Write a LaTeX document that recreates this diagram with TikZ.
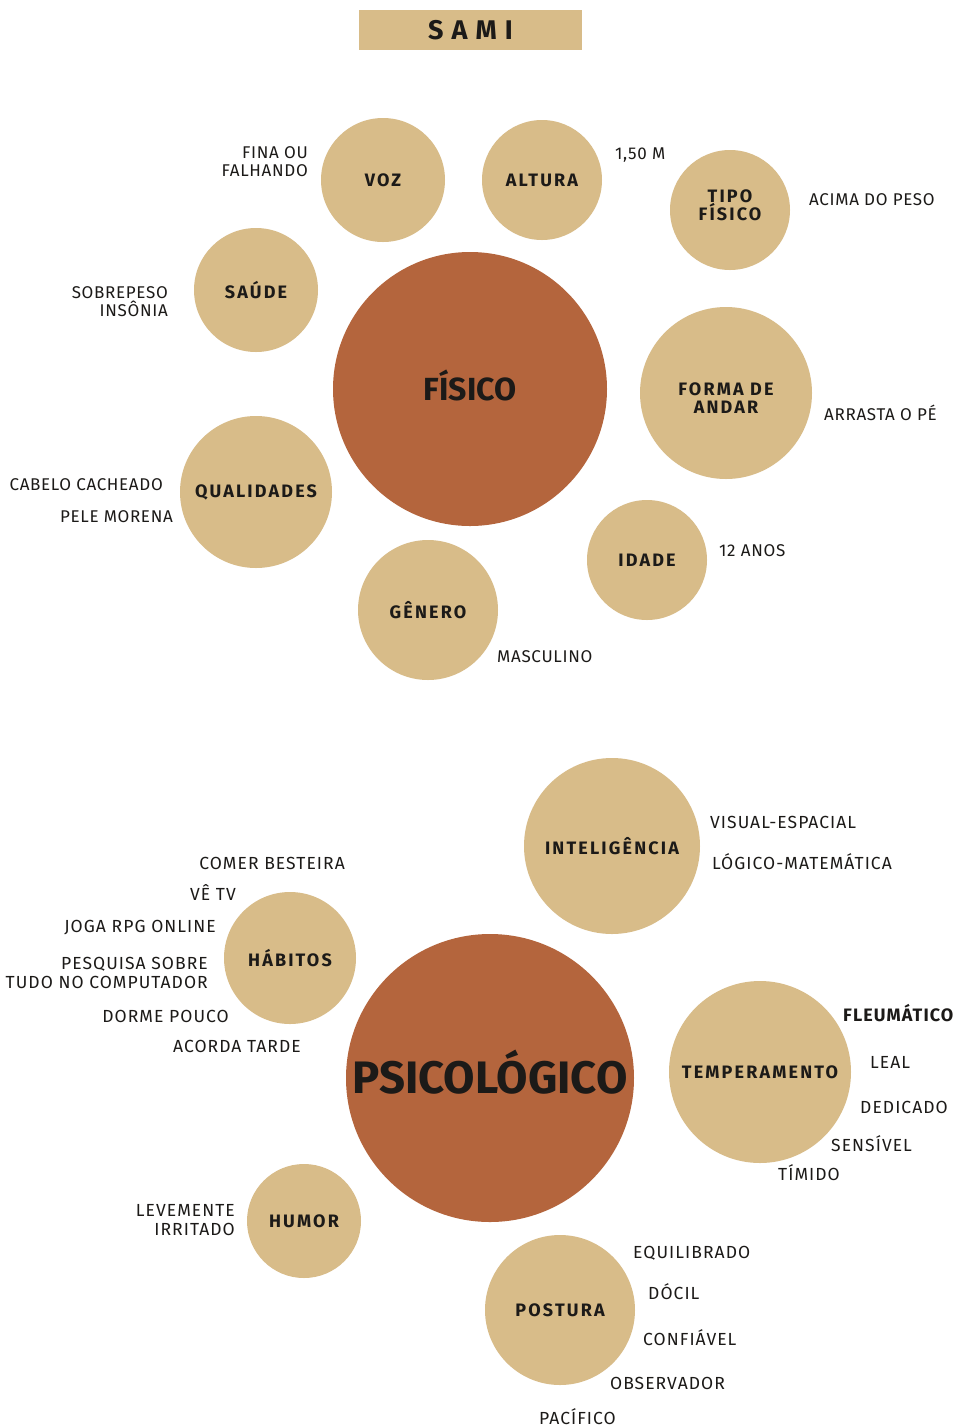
\documentclass[tikz,border=0pt]{standalone}
\usepackage{fontspec}
\setmainfont{Fira Sans}
\newfontfamily\labfont[LetterSpace=12]{Fira Sans}
\newfontfamily\notefont[LetterSpace=4]{Fira Sans}
\newfontfamily\notefontb[LetterSpace=6]{Fira Sans}
\newfontfamily\titlefont[LetterSpace=30]{Fira Sans}
\definecolor{tan}{HTML}{D8BC89}
\definecolor{rust}{HTML}{B4653D}
\definecolor{ink}{HTML}{1C1A18}
\begin{document}
\begin{tikzpicture}[x=1pt,y=-1pt,
  bub/.style={circle,fill=tan,inner sep=0pt,minimum size=#1,text=ink,
    font=\labfont\bfseries\fontsize{18}{18}\selectfont,align=center},
  blab/.style={text=ink,inner sep=0pt,align=center,
    font=\labfont\bfseries\fontsize{18}{18}\selectfont},
  core/.style={circle,fill=rust,inner sep=0pt,minimum size=#1,text=ink,text depth=0pt},
  note/.style={text=ink,inner sep=0pt,font=\notefont\fontsize{17}{18}\selectfont},
  noteb/.style={text=ink,inner sep=0pt,font=\notefontb\fontsize{17.5}{18.5}\selectfont},
  lnote/.style={note,anchor=base west},
  rnote/.style={note,anchor=base east},
  mnote/.style={note,anchor=east,align=right},
  lnoteb/.style={noteb,anchor=base west},
  rnoteb/.style={noteb,anchor=base east},
  mnoteb/.style={noteb,anchor=east,align=right}]
\useasboundingbox[fill=white] (0,0) rectangle (956,1428);

% title bar
\node[fill=tan,minimum width=223,minimum height=40,inner sep=0pt,text=ink,
  font=\titlefont\bfseries\fontsize{27}{28}\selectfont] (title) at (470.5,30) {SAMI};

% ---- physical traits ----
\node[core=274,text height=22pt,font=\bfseries\fontsize{32}{34}\selectfont] (fisico) at (470,389) {FÍSICO};
\node[bub=124] (voz) at (383,180) {VOZ};
\node[bub=120] (altura) at (542,180) {ALTURA};
\node[bub=120,label={[blab,yshift=5]center:TIPO\\FÍSICO}] (tipo) at (730,210) {};
\node[bub=124] (saude) at (256,290) {SAÚDE};
\node[bub=172,label={[blab,yshift=-5]center:FORMA DE\\ANDAR}] (andar) at (726,393) {};
\node[bub=152] (qual) at (256,492) {QUALIDADES};
\node[bub=120] (idade) at (647,560) {IDADE};
\node[bub=140] (genero) at (428,610) {GÊNERO};

\node[mnote] (vozn) at (308,162) {FINA OU\\FALHANDO};
\node[lnote] (alturan) at (615,159) {1,50 M};
\node[lnote] (tipon) at (809,205) {ACIMA DO PESO};
\node[mnote] (saude n) at (168,302) {SOBREPESO\\INSÔNIA};
\node[lnote] (andarn) at (824,420) {ARRASTA O PÉ};
\node[rnote] (qualn1) at (163,490) {CABELO CACHEADO};
\node[rnote] (qualn2) at (173,522) {PELE MORENA};
\node[lnote] (idaden) at (719,556) {12 ANOS};
\node[lnote] (generon) at (497,662) {MASCULINO};

% ---- psychological traits ----
\node[core=288,text height=31.3pt,font=\bfseries\fontsize{45.5}{47}\selectfont] (psico) at (490,1078) {PSICOLÓGICO};
\node[bub=176] (intel) at (612,846) {INTELIGÊNCIA};
\node[bub=132] (habitos) at (290,958) {HÁBITOS};
\node[bub=182] (temp) at (760,1072) {TEMPERAMENTO};
\node[bub=114] (humor) at (304,1221) {HUMOR};
\node[bub=150] (postura) at (560,1310) {POSTURA};

\node[lnoteb] (inteln1) at (710,828) {VISUAL-ESPACIAL};
\node[lnoteb] (inteln2) at (712,869) {LÓGICO-MATEMÁTICA};

\node[rnoteb] (hab1) at (345,869) {COMER BESTEIRA};
\node[rnoteb] (hab2) at (236,900) {VÊ TV};
\node[rnoteb] (hab3) at (216,932) {JOGA RPG ONLINE};
\node[mnoteb] (hab4) at (208,973) {PESQUISA SOBRE\\TUDO NO COMPUTADOR};
\node[rnoteb] (hab5) at (229,1022) {DORME POUCO};
\node[rnoteb] (hab6) at (301,1052) {ACORDA TARDE};

\node[lnoteb,font=\notefontb\bfseries\fontsize{18}{19}\selectfont] (temp1) at (843,1021) {FLEUMÁTICO};
\node[lnoteb] (temp2) at (870,1068) {LEAL};
\node[lnoteb] (temp3) at (860,1113) {DEDICADO};
\node[lnoteb] (temp4) at (831,1151) {SENSÍVEL};
\node[lnoteb] (temp5) at (778,1180) {TÍMIDO};

\node[mnoteb] (humorn) at (235,1220) {LEVEMENTE\\IRRITADO};

\node[lnoteb] (pos1) at (633,1258) {EQUILIBRADO};
\node[lnoteb] (pos2) at (648,1299) {DÓCIL};
\node[lnoteb] (pos3) at (643,1345) {CONFIÁVEL};
\node[lnoteb] (pos4) at (610,1389) {OBSERVADOR};
\node[lnoteb] (pos5) at (539,1424) {PACÍFICO};
\end{tikzpicture}
\end{document}
